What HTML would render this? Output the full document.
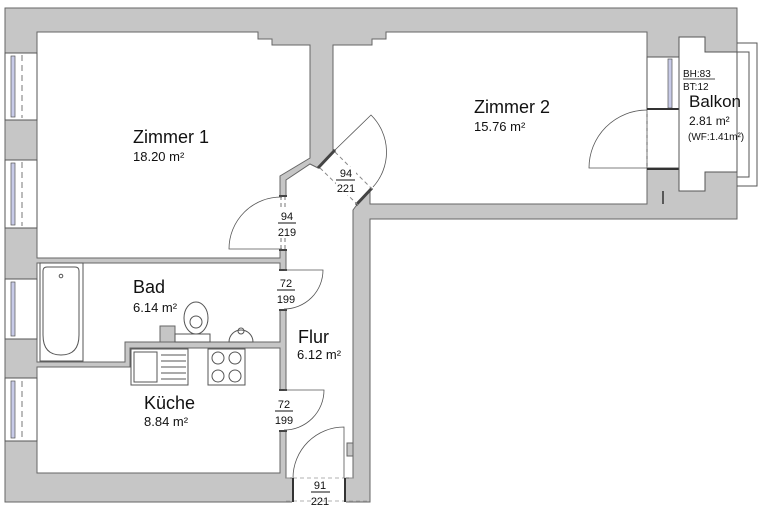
<!DOCTYPE html>
<html><head><meta charset="utf-8"><style>
html,body{margin:0;padding:0;background:#fff;}
svg{display:block;}
text{font-family:"Liberation Sans",Arial,sans-serif;fill:#111;}
</style></head><body>
<svg width="768" height="509" viewBox="0 0 768 509" xmlns="http://www.w3.org/2000/svg">
<polygon points="5,8 737,8 737,219 370,219 370,502 5,502" fill="#c6c6c6" stroke="#666" stroke-width="1"/>
<polygon points="37,32 258,32 258,39 272,39 272,45 310,45 310,158 280,176 280,258 37,258" fill="#fff" stroke="#666" stroke-width="1"/>
<polygon points="333,150 333,45 372,45 372,39 386,39 386,32 647,32 647,204 370,204 370,190 356,206 353,210 353,478 286,478 286,180 310,164 318,168 335,150" fill="#fff" stroke="#666" stroke-width="1"/>
<polygon points="37,263 280,263 280,342 125,342 125,362 37,362" fill="#fff" stroke="#666" stroke-width="1"/>
<polygon points="37,367 130,367 130,348 280,348 280,473 37,473" fill="#fff" stroke="#666" stroke-width="1"/>
<rect x="160" y="326" width="15" height="16" fill="#c6c6c6" stroke="#666"/>
<rect x="279" y="196" width="8" height="54" fill="#fff"/>
<line x1="281" y1="196" x2="281" y2="250" stroke="#777" stroke-dasharray="4,3"/>
<line x1="285" y1="196" x2="285" y2="250" stroke="#777" stroke-dasharray="4,3"/>
<line x1="279" y1="196" x2="287" y2="196" stroke="#444" stroke-width="2"/>
<line x1="279" y1="250" x2="287" y2="250" stroke="#444" stroke-width="2"/>
<path d="M282,197 A52,52 0 0 0 229,249 L282,249" fill="none" stroke="#555" stroke-width="0.8"/>
<rect x="279" y="270" width="8" height="40" fill="#fff"/>
<line x1="279" y1="270" x2="287" y2="270" stroke="#444" stroke-width="2"/>
<line x1="279" y1="310" x2="287" y2="310" stroke="#444" stroke-width="2"/>
<path d="M284,270 L323,270 A39,39 0 0 1 284,309" fill="none" stroke="#555" stroke-width="0.8"/>
<rect x="279" y="390" width="8" height="41" fill="#fff"/>
<line x1="279" y1="390" x2="287" y2="390" stroke="#444" stroke-width="2"/>
<line x1="279" y1="431" x2="287" y2="431" stroke="#444" stroke-width="2"/>
<path d="M284,390 L324,390 A40,40 0 0 1 284,430" fill="none" stroke="#555" stroke-width="0.8"/>
<line x1="318" y1="168" x2="335" y2="150" stroke="#444" stroke-width="3"/>
<line x1="356" y1="205" x2="372" y2="188" stroke="#444" stroke-width="3"/>
<line x1="320" y1="168" x2="358" y2="205" stroke="#888" stroke-dasharray="4,3"/>
<line x1="335" y1="152" x2="372" y2="189" stroke="#888" stroke-dasharray="4,3"/>
<path d="M335,150 L371,115 A52,52 0 0 1 373,187" fill="none" stroke="#555" stroke-width="0.8"/>
<rect x="292" y="477" width="54" height="26" fill="#fff"/>
<line x1="286" y1="478" x2="353" y2="478" stroke="#999" stroke-dasharray="4,3" stroke-width="0.8"/>
<line x1="286" y1="501" x2="370" y2="501" stroke="#999" stroke-dasharray="4,3" stroke-width="0.8"/>
<line x1="293" y1="478" x2="293" y2="502" stroke="#333" stroke-width="2"/>
<line x1="345" y1="478" x2="345" y2="502" stroke="#333" stroke-width="2"/>
<path d="M293,478 A51,51 0 0 1 344,427 L344,478" fill="none" stroke="#555" stroke-width="0.8"/>
<rect x="347" y="443" width="6" height="13" fill="#c6c6c6" stroke="#666"/>
<g fill="#fff" stroke="#555">
<rect x="5" y="53" width="32" height="67"/>
<rect x="5" y="160" width="32" height="68"/>
<rect x="5" y="279" width="32" height="60"/>
<rect x="5" y="378" width="32" height="63"/>
</g>
<g fill="#c8cbe8" stroke="#555" stroke-width="0.7">
<rect x="11" y="56" width="4" height="61"/>
<rect x="11" y="163" width="4" height="62"/>
<rect x="11" y="282" width="4" height="54"/>
<rect x="11" y="381" width="4" height="57"/>
</g>
<g stroke="#777" stroke-dasharray="6,4">
<line x1="22" y1="55" x2="22" y2="118"/>
<line x1="22" y1="162" x2="22" y2="226"/>
<line x1="22" y1="381" x2="22" y2="439"/>
</g>
<rect x="647" y="57" width="32" height="111" fill="#fff" stroke="#555"/>
<rect x="668" y="59" width="4" height="49" fill="#c8cbe8" stroke="#555" stroke-width="0.7"/>
<line x1="647" y1="109" x2="679" y2="109" stroke="#333" stroke-width="2"/>
<line x1="647" y1="169" x2="679" y2="169" stroke="#333" stroke-width="2"/>
<line x1="647" y1="110" x2="647" y2="168" stroke="#777" stroke-dasharray="4,3"/>
<line x1="679" y1="110" x2="679" y2="168" stroke="#777" stroke-dasharray="4,3"/>
<path d="M647,110 A58,58 0 0 0 589,168 L647,168" fill="none" stroke="#555" stroke-width="0.8"/>
<line x1="663" y1="191" x2="663" y2="204" stroke="#333" stroke-width="1.5"/>
<polygon points="679,37 705,37 705,52 737,52 737,172 705,172 705,191 679,191" fill="#fff" stroke="#555"/>
<path d="M737,43 L757,43 L757,186 L737,186 M737,52 L749,52 L749,177 L737,177" fill="none" stroke="#555"/>
<rect x="40" y="263" width="43" height="98" fill="#fff" stroke="#555"/>
<path d="M43,271 Q43,267 47,267 L75,267 Q79,267 79,271 L79,335 Q79,355 61,355 Q43,355 43,335 Z" fill="none" stroke="#555"/>
<circle cx="61" cy="276" r="1.8" fill="none" stroke="#555"/>
<rect x="175" y="334" width="35" height="8" fill="#fff" stroke="#555"/>
<ellipse cx="196" cy="318" rx="12" ry="16" fill="#fff" stroke="#555"/>
<ellipse cx="196" cy="322" rx="6" ry="6" fill="none" stroke="#555"/>
<path d="M229,342 A12,12 0 1 1 253,342 Z" fill="#fff" stroke="#555"/>
<circle cx="241" cy="331" r="3" fill="none" stroke="#555"/>
<rect x="131" y="349" width="57" height="36" fill="#fff" stroke="#555"/>
<rect x="134" y="352" width="23" height="30" fill="none" stroke="#555"/>
<g stroke="#555"><line x1="161" y1="355" x2="186" y2="355"/><line x1="161" y1="361" x2="186" y2="361"/><line x1="161" y1="367" x2="186" y2="367"/><line x1="161" y1="373" x2="186" y2="373"/><line x1="161" y1="379" x2="186" y2="379"/></g>
<rect x="208" y="349" width="37" height="36" fill="#fff" stroke="#555"/>
<g fill="none" stroke="#555"><circle cx="218" cy="358" r="6"/><circle cx="235" cy="358" r="6"/><circle cx="218" cy="376" r="6"/><circle cx="235" cy="376" r="6"/></g>
<text x="133" y="143" font-size="18">Zimmer 1</text>
<text x="133" y="161" font-size="13">18.20 m²</text>
<text x="474" y="113" font-size="18">Zimmer 2</text>
<text x="474" y="131" font-size="13">15.76 m²</text>
<text x="133" y="293" font-size="18">Bad</text>
<text x="133" y="312" font-size="13">6.14 m²</text>
<text x="144" y="409" font-size="18">Küche</text>
<text x="144" y="426" font-size="13">8.84 m²</text>
<text x="298" y="343" font-size="18">Flur</text>
<text x="297" y="359" font-size="13">6.12 m²</text>
<text x="689" y="107" font-size="17">Balkon</text>
<text x="689" y="125" font-size="12">2.81 m²</text>
<text x="688" y="140" font-size="10">(WF:1.41m²)</text>
<text x="683" y="77" font-size="10">BH:83</text>
<line x1="683" y1="79" x2="715" y2="79" stroke="#111" stroke-width="0.7"/>
<text x="683" y="90" font-size="10">BT:12</text>
<g fill="#fff">
<rect x="278" y="210" width="18" height="28"/>
<rect x="277" y="277" width="18" height="28"/>
<rect x="275" y="398" width="18" height="28"/>
<rect x="336" y="167" width="20" height="28"/>
</g>
<g font-size="11" text-anchor="middle">
<text x="287" y="220">94</text><line x1="278" y1="223" x2="296" y2="223" stroke="#111"/><text x="287" y="236">219</text>
<text x="346" y="177">94</text><line x1="336" y1="180" x2="355" y2="180" stroke="#111"/><text x="346" y="192">221</text>
<text x="286" y="287">72</text><line x1="277" y1="290" x2="295" y2="290" stroke="#111"/><text x="286" y="303">199</text>
<text x="284" y="408">72</text><line x1="275" y1="411" x2="293" y2="411" stroke="#111"/><text x="284" y="424">199</text>
<text x="320" y="489">91</text><line x1="311" y1="492" x2="330" y2="492" stroke="#111"/><text x="320" y="505">221</text>
</g>
</svg>
</body></html>
